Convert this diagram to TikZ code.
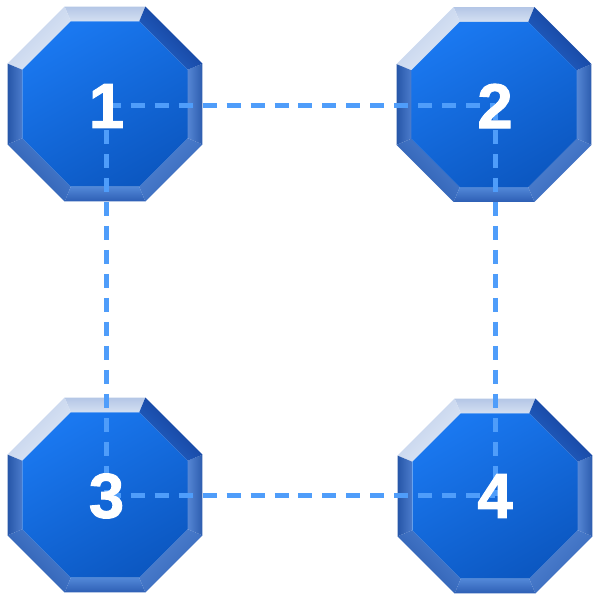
\documentclass[tikz,border=0pt]{standalone}
\usepackage{fontspec}
\setmainfont{Liberation Sans}
\newfontfamily\numfont[FakeBold=1.6]{Liberation Sans Bold}
\definecolor{facetop}{HTML}{1A78F0}
\definecolor{facebot}{HTML}{0C58C2}
\definecolor{linkblue}{HTML}{4F9DFA}
\tikzset{
  link/.style={draw=linkblue, line width=0.1cm, dash pattern=on 0.28cm off 0.2cm},
  numlabel/.style={text=white, font=\numfont\fontsize{36}{36}\selectfont, inner sep=0pt}
}
% beveled octagon at a coordinate
\newcommand{\octagon}[1]{
  \begin{scope}[shift={(#1)}]
    \def\rout{2.11}
    \def\rin{1.79}
    \foreach \a/\co/\ci in {90/B4C6E6/D4E0F2, 135/BCCDEA/E2EAF6, 180/2656A8/4C7CCC,
        225/2858AC/4C80D0, 270/2D5EB4/5288D8, 315/3264B8/5284D2, 0/2C5CAE/5586D4, 45/12388E/2466CC}{
      \definecolor{co}{HTML}{\co}
      \definecolor{ci}{HTML}{\ci}
      \pgfmathsetmacro{\sa}{\a-90}
      \shade[top color=co, bottom color=ci, shading angle=\sa]
        (\a-22.5:\rout) -- (\a+22.5:\rout) -- (\a+22.5:\rin) -- (\a-22.5:\rin) -- cycle;
    }
    % face
    \shade[top color=facetop, bottom color=facebot, shading angle=30]
      (22.5:\rin) \foreach \b in {67.5,112.5,...,337.5}{ -- (\b:\rin)} -- cycle;
  \end{scope}
}
\begin{document}
\begin{tikzpicture}
  \useasboundingbox (0,0) rectangle (12,12);
  % octagon centres
  \coordinate (o1) at (2.10, 9.92);
  \coordinate (o2) at (9.88, 9.91);
  \coordinate (o3) at (2.10, 2.10);
  \coordinate (o4) at (9.90, 2.08);
  % label centres
  \coordinate (c1) at (2.13, 9.88);
  \coordinate (c2) at (9.90, 9.88);
  \coordinate (c3) at (2.13, 2.08);
  \coordinate (c4) at (9.90, 2.08);
  \foreach \i in {1,...,4}{\octagon{o\i}}
  % dashed links
  \draw[link] (c1) -- (c2);
  \draw[link] (c1) -- (c3);
  \draw[link] (c3) -- (c4);
  \draw[link] (c2) -- (c4);
  % numbers
  \node[numlabel] (n1) at (c1) {1};
  \node[numlabel] (n2) at (c2) {2};
  \node[numlabel] (n3) at (c3) {3};
  \node[numlabel] (n4) at (c4) {4};
\end{tikzpicture}
\end{document}
